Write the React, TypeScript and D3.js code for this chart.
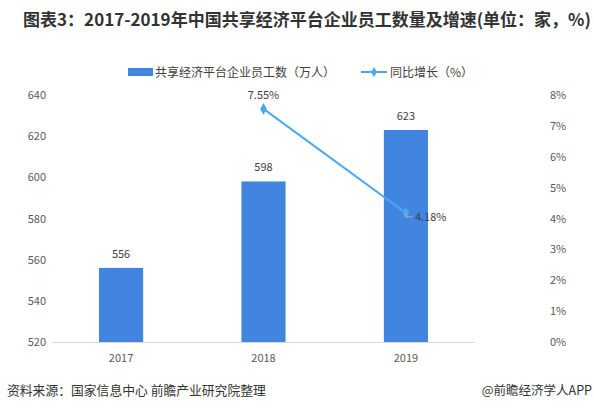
import React from 'react';
import * as d3 from 'd3';

const years = ['2017', '2018', '2019'];
const staff = [556, 598, 623];
const growth: (number | null)[] = [null, 7.55, 4.18];
const leftTicks = [520, 540, 560, 580, 600, 620, 640];
const rightTicks = [0, 1, 2, 3, 4, 5, 6, 7, 8];

const W = 594;
const H = 412;
const font = '"Microsoft YaHei", "Noto Sans CJK SC", sans-serif';

export default function App() {
  const left = 52, right = 475, top = 95, bottom = 342;
  const x = d3.scaleBand().domain(years).range([left, right]).paddingInner(0.69).paddingOuter(0.33);
  const y = d3.scaleLinear().domain([520, 640]).range([bottom, top]);
  const y2 = d3.scaleLinear().domain([0, 8]).range([bottom, top]);
  const cx = (d: string) => (x(d) ?? 0) + x.bandwidth() / 2;

  const pts = years
    .map((d, i) => ({ d, v: growth[i] }))
    .filter((p) => p.v != null) as { d: string; v: number }[];
  const line = d3.line<{ d: string; v: number }>().x((p) => cx(p.d)).y((p) => y2(p.v));

  return (
    <svg width={W} height={H} style={{ position: 'absolute', left: 0, top: 0, background: '#fff' }} fontFamily={font}>
      <text x={307} y={26} textAnchor="middle" fontSize={17} fontWeight="bold" fill="#333">
        图表3：2017-2019年中国共享经济平台企业员工数量及增速(单位：家，%)
      </text>

      {/* legend */}
      <rect x={128} y={68} width={25} height={8} fill="#4285E0" />
      <text x={155} y={76.5} fontSize={12} fill="#404040">共享经济平台企业员工数（万人）</text>
      <line x1={361} x2={387} y1={72} y2={72} stroke="#4BA8F0" strokeWidth={2} />
      <path d={d3.symbol(d3.symbolDiamond, 30)() ?? ''} transform="translate(374,72)" fill="#4BA8F0" />
      <text x={390} y={76.5} fontSize={12} fill="#404040">同比增长（%）</text>

      {/* axes labels */}
      {leftTicks.map((t) => (
        <text key={t} x={46} y={y(t) + 4} textAnchor="end" fontSize={11} fill="#595959">{t}</text>
      ))}
      {rightTicks.map((t) => (
        <text key={t} x={550} y={y2(t) + 4} fontSize={11} fill="#595959">{t}%</text>
      ))}

      {/* bars */}
      {years.map((d, i) => (
        <g key={d}>
          <rect x={x(d)} y={y(staff[i])} width={x.bandwidth()} height={bottom - y(staff[i])} fill="#4285E0" />
          <text x={cx(d)} y={y(staff[i]) - 10} textAnchor="middle" fontSize={11} fill="#404040">{staff[i]}</text>
          <text x={cx(d)} y={bottom + 20} textAnchor="middle" fontSize={11} fill="#595959">{d}</text>
        </g>
      ))}
      <line x1={left} x2={right} y1={bottom + 0.5} y2={bottom + 0.5} stroke="#d9d9d9" />

      {/* growth line */}
      <path d={line(pts) ?? ''} fill="none" stroke="#4BA8F0" strokeWidth={2} />
      {pts.map((p, i) => (
        <g key={p.d}>
          <path d={d3.symbol(d3.symbolDiamond, 40)() ?? ''} transform={`translate(${cx(p.d)},${y2(p.v)})`} fill="#4BA8F0" />
          {i === 0 ? (
            <text x={cx(p.d)} y={y2(p.v) - 10} textAnchor="middle" fontSize={11} fill="#404040">{p.v.toFixed(2)}%</text>
          ) : (
            <g>
              <polyline points={`${cx(p.d)},${y2(p.v)} ${cx(p.d)},${y2(p.v) + 4} ${cx(p.d) + 7},${y2(p.v) + 4}`} fill="none" stroke="#aaa" />
              <text x={cx(p.d) + 9} y={y2(p.v) + 8} fontSize={11} fill="#404040">{p.v.toFixed(2)}%</text>
            </g>
          )}
        </g>
      ))}

      {/* footer */}
      <text x={7} y={395} fontSize={12.8} fill="#333">资料来源：国家信息中心 前瞻产业研究院整理</text>
      <text x={592} y={395} textAnchor="end" fontSize={12.5} fill="#333">@前瞻经济学人APP</text>
    </svg>
  );
}
